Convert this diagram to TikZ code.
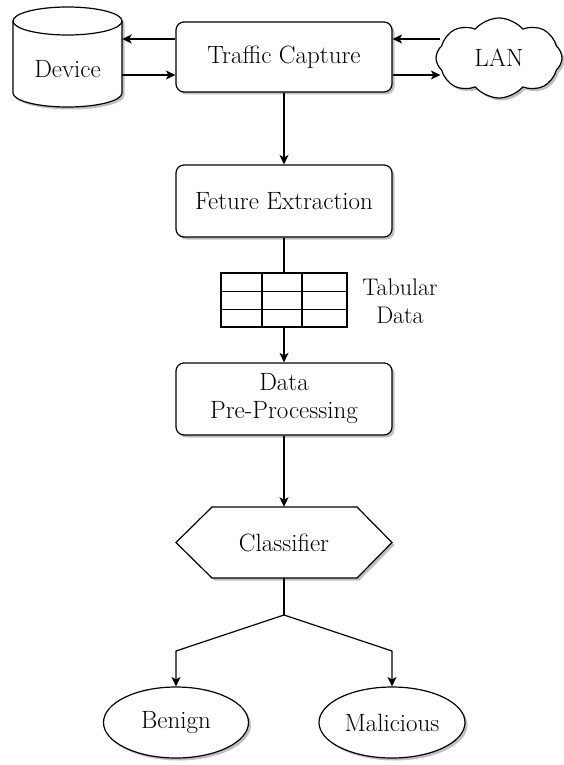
\documentclass[tikz,border=0pt]{standalone}
\usepackage{fontspec}
\usetikzlibrary{shapes.geometric,shapes.symbols,arrows.meta,shadows}
\tikzset{
  shad/.style={drop shadow={shadow xshift=2.5pt,shadow yshift=-2.5pt,opacity=0.25,fill=black}},
  ln/.style={line width=1.2pt, draw=black},
  bigfont/.style={font=\fontsize{25}{28}\selectfont},
  proc/.style={ln, rounded corners=8pt, fill=white, minimum width=216pt, minimum height=71pt, inner sep=0pt, align=center, shad, bigfont},
  txt/.style={inner sep=0pt, align=center, bigfont},
  arr/.style={ln, -{Stealth[length=9.5pt,width=9pt,inset=2.5pt]}},
  shadowfill/.style={fill=black, opacity=0.25, xshift=2.5pt, yshift=-2.5pt},
}
\begin{document}
\begin{tikzpicture}[x=1pt,y=-1pt]
\useasboundingbox (0,0) rectangle (563,765);

% Device cylinder
\fill[shadowfill] (13,21) -- (13,93) arc[start angle=180,end angle=360,x radius=54.5pt,y radius=14pt] -- (122,21) arc[start angle=0,end angle=180,x radius=54.5pt,y radius=14pt] -- cycle;
\draw[ln, fill=white] (13,21) -- (13,93) arc[start angle=180,end angle=360,x radius=54.5pt,y radius=14pt] -- (122,21) arc[start angle=0,end angle=180,x radius=54.5pt,y radius=14pt] -- cycle;
\draw[ln] (13,21) arc[start angle=180,end angle=360,x radius=54.5pt,y radius=14pt];
\node (dev) [minimum width=109pt, minimum height=100pt, inner sep=0pt] at (67.5,57) {};
\node (devt) [txt] at (67.5,69) {Device};

% Traffic capture
\node (tc) [proc, minimum height=70pt] at (284,57) {Traffic Capture};

% LAN cloud
\node (lan) [cloud, ln, fill=white, shad, cloud puffs=8, cloud puff arc=100, aspect=1.6, minimum width=126pt, minimum height=80pt, inner sep=0pt, bigfont] at (499,58) {LAN};

% Feature extraction
\node (fe) [proc, minimum height=72pt] at (284,201) {Feture Extraction};

% Table
\node (tab) [minimum width=126pt, minimum height=54pt, inner sep=0pt] at (284,300) {};
\draw[ln, fill=white] (221,273) rectangle (347,327);
\draw[ln] (262,273) -- (262,327) (302,273) -- (302,327)
          (221,291.5) -- (347,291.5) (221,309.5) -- (347,309.5);
\node (tabl) [inner sep=0pt, align=center, font=\fontsize{24}{28}\selectfont] at (400,301) {Tabular\\Data};

% Pre-processing
\node (dpp) [proc, minimum height=72pt] at (284,399) {Data\\Pre-Processing};

% Classifier hexagon
\fill[shadowfill] (176,542.5) -- (212,507) -- (357,507) -- (392,542.5) -- (357,578) -- (212,578) -- cycle;
\draw[ln, fill=white] (176,542.5) -- (212,507) -- (357,507) -- (392,542.5) -- (357,578) -- (212,578) -- cycle;
\node (cls) [txt, minimum width=216pt, minimum height=71pt] at (284,542.5) {Classifier};

% Outcomes
\node (ben) [ellipse, ln, fill=white, shad, minimum width=145pt, minimum height=71pt, inner sep=0pt, bigfont] at (176,722.5) {Benign};
\node (mal) [ellipse, ln, fill=white, shad, minimum width=146pt, minimum height=71pt, inner sep=0pt, bigfont] at (392,722.5) {Malicious};

% Connectors
\draw[arr] ([yshift=18pt]tc.west) -- ([yshift=18pt]dev.east);
\draw[arr] ([yshift=-18pt]dev.east) -- ([yshift=-18pt]tc.west);
\draw[arr] ([xshift=5pt,yshift=19pt]lan.west) -- ([yshift=18pt]tc.east);
\draw[arr] ([yshift=-18pt]tc.east) -- ([xshift=5pt,yshift=-17pt]lan.west);
\draw[arr] (tc.south) -- (fe.north);
\draw[ln] (fe.south) -- (tab.north);
\draw[arr] (tab.south) -- (dpp.north);
\draw[arr] (dpp.south) -- (cls.north);
\coordinate (jn) at (284,615);
\coordinate (bl) at (176,651);
\coordinate (br) at (392,651);
\draw[ln] (cls.south) -- (jn);
\draw[arr] (jn) -- (bl) -- (ben.north);
\draw[arr] (jn) -- (br) -- (mal.north);
\end{tikzpicture}
\end{document}
